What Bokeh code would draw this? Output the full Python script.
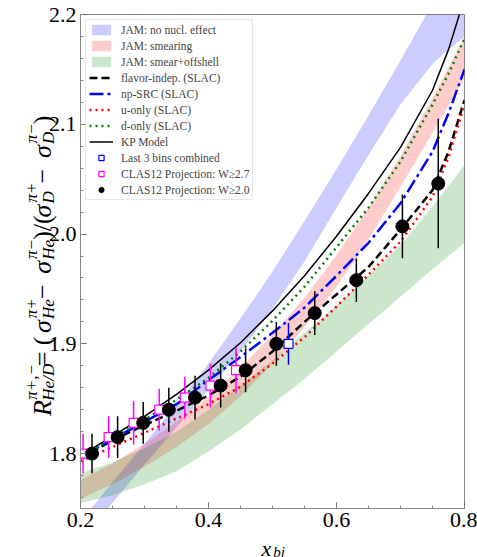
import math
from bokeh.plotting import figure
from bokeh.layouts import row, column
from bokeh.models import (Range1d, SingleIntervalTicker, PrintfTickFormatter,
                          Legend, LegendItem)
from bokeh.core.properties import value
from bokeh.embed import file_html
from bokeh.resources import INLINE

# ---- model curves on a common x_bj grid ----
x_model = [0.20, 0.25, 0.30, 0.35, 0.40, 0.45, 0.50, 0.55, 0.60, 0.65, 0.70, 0.75, 0.775, 0.80]

# JAM bands (lower / upper edge)
jam_free_lo = [1.722, 1.755, 1.790, 1.824, 1.858, 1.893, 1.932, 1.975, 2.024, 2.072, 2.118, 2.155, 2.168, 2.180]
jam_free_hi = [1.738, 1.774, 1.809, 1.845, 1.882, 1.923, 1.966, 2.012, 2.059, 2.108, 2.158, 2.210, 2.237, 2.265]
jam_smear_lo = [1.759, 1.772, 1.788, 1.806, 1.827, 1.852, 1.882, 1.915, 1.952, 1.995, 2.043, 2.092, 2.117, 2.142]
jam_smear_hi = [1.776, 1.791, 1.809, 1.829, 1.852, 1.878, 1.908, 1.942, 1.981, 2.024, 2.071, 2.124, 2.152, 2.180]
jam_off_lo = [1.755, 1.762, 1.772, 1.784, 1.802, 1.822, 1.845, 1.868, 1.893, 1.918, 1.943, 1.968, 1.980, 1.992]
jam_off_hi = [1.782, 1.792, 1.805, 1.820, 1.840, 1.862, 1.885, 1.910, 1.935, 1.962, 1.990, 2.025, 2.044, 2.063]

# SLAC-based EMC parametrisations and KP model
slac_flavor = [1.796, 1.812, 1.826, 1.839, 1.853, 1.870, 1.893, 1.920, 1.945, 1.970, 2.004, 2.040, 2.075, 2.122]
slac_npsrc = [1.797, 1.813, 1.829, 1.845, 1.867, 1.888, 1.910, 1.933, 1.962, 1.992, 2.028, 2.075, 2.110, 2.150]
slac_u = [1.793, 1.806, 1.819, 1.832, 1.845, 1.861, 1.882, 1.906, 1.934, 1.963, 1.993, 2.034, 2.070, 2.118]
slac_d = [1.797, 1.814, 1.831, 1.849, 1.869, 1.893, 1.921, 1.952, 1.988, 2.024, 2.066, 2.118, 2.146, 2.178]
kp_model = [1.798, 1.816, 1.834, 1.854, 1.876, 1.901, 1.930, 1.962, 1.998, 2.037, 2.079, 2.131, 2.168, 2.215]

# ---- projected data ----
w20_x = [0.218, 0.258, 0.298, 0.338, 0.379, 0.419, 0.458, 0.506, 0.566, 0.631, 0.703, 0.759]
w20_y = [1.800, 1.815, 1.828, 1.840, 1.851, 1.862, 1.876, 1.900, 1.928, 1.958, 2.007, 2.046]
w20_err = [0.018, 0.019, 0.019, 0.020, 0.020, 0.020, 0.020, 0.020, 0.020, 0.020, 0.029, 0.059]

w27_x = [0.204, 0.244, 0.283, 0.323, 0.363, 0.403, 0.443]
w27_y = [1.800, 1.815, 1.828, 1.840, 1.851, 1.862, 1.876]
w27_err = [0.018, 0.019, 0.020, 0.019, 0.019, 0.020, 0.021]

comb_x = [0.525]
comb_y = [1.900]
comb_err = [0.019]

SERIF = "Liberation Serif"
TICK = 22

p = figure(width=443, height=540, x_range=Range1d(0.2, 0.8), y_range=Range1d(1.75, 2.2),
           output_backend="svg", toolbar_location=None, title=None,
           min_border_left=46, min_border_right=13, min_border_top=14, min_border_bottom=32)
p.grid.visible = False
p.outline_line_color = "#888888"
p.border_fill_alpha = 0.0

p.xaxis.ticker = SingleIntervalTicker(interval=0.2, num_minor_ticks=4)
p.yaxis.ticker = SingleIntervalTicker(interval=0.1, num_minor_ticks=5)
for ax in (p.xaxis, p.yaxis):
    ax.formatter = PrintfTickFormatter(format="%.1f")
    ax.major_label_text_font = SERIF
    ax.major_label_text_font_size = f"{TICK}px"
    ax.major_label_text_color = "black"
    ax.axis_line_color = "#888888"
    ax.major_tick_line_color = "#666666"
    ax.minor_tick_line_color = "#888888"
    ax.major_tick_in = 6
    ax.major_tick_out = 0
    ax.minor_tick_in = 3
    ax.minor_tick_out = 0
p.xaxis.major_label_standoff = 4
p.yaxis.major_label_standoff = 4

# bands
r_free = p.varea(x=x_model, y1=jam_free_lo, y2=jam_free_hi, fill_color="blue", fill_alpha=0.2)
r_smear = p.varea(x=x_model, y1=jam_smear_lo, y2=jam_smear_hi, fill_color="red", fill_alpha=0.2)
r_off = p.varea(x=x_model, y1=jam_off_lo, y2=jam_off_hi, fill_color="green", fill_alpha=0.2)

# curves
r_flav = p.line(x_model, slac_flavor, line_color="black", line_width=2.5, line_dash="8 4")
r_np = p.line(x_model, slac_npsrc, line_color="blue", line_width=2.5, line_dash="14 4 3 4")
r_u = p.line(x_model, slac_u, line_color="red", line_width=2.5, line_dash="2 4")
r_d = p.line(x_model, slac_d, line_color="green", line_width=2.5, line_dash="2 4")
r_kp = p.line(x_model, kp_model, line_color="black", line_width=1.5)


# error bars and markers
def bars(xs, ys, es, color, width):
    lo = [y - e for y, e in zip(ys, es)]
    hi = [y + e for y, e in zip(ys, es)]
    return p.segment(x0=xs, y0=lo, x1=xs, y1=hi, line_color=color, line_width=width)


bars(comb_x, comb_y, comb_err, "blue", 1.5)
r_comb = p.scatter(comb_x, comb_y, marker="square", size=9, fill_color="white",
                   line_color="blue", line_width=1.2)
bars(w27_x, w27_y, w27_err, "magenta", 1.5)
r_w27 = p.scatter(w27_x, w27_y, marker="square", size=9, fill_color="white",
                  line_color="magenta", line_width=1.2)
bars(w20_x, w20_y, w20_err, "black", 1.5)
r_w20 = p.scatter(w20_x, w20_y, marker="circle", size=13, fill_color="black", line_color="black")

legend = Legend(items=[
    LegendItem(label="JAM: no nucl. effect", renderers=[r_free]),
    LegendItem(label="JAM: smearing", renderers=[r_smear]),
    LegendItem(label="JAM: smear+offshell", renderers=[r_off]),
    LegendItem(label="flavor-indep. (SLAC)", renderers=[r_flav]),
    LegendItem(label="np-SRC (SLAC)", renderers=[r_np]),
    LegendItem(label="u-only (SLAC)", renderers=[r_u]),
    LegendItem(label="d-only (SLAC)", renderers=[r_d]),
    LegendItem(label="KP Model", renderers=[r_kp]),
    LegendItem(label="Last 3 bins combined", renderers=[r_comb]),
    LegendItem(label="CLAS12 Projection: W≥2.7", renderers=[r_w27]),
    LegendItem(label="CLAS12 Projection: W≥2.0", renderers=[r_w20]),
], location="top_left")
legend.label_text_font = SERIF
legend.label_text_font_size = "11.5px"
legend.glyph_width = 24
legend.glyph_height = 13
legend.label_height = 13
legend.spacing = 3
legend.padding = 3
legend.margin = 5
legend.label_standoff = 8
legend.border_line_color = "#d0d0d0"
legend.background_fill_alpha = 0.8
p.add_layout(legend)

# ---- axis titles built from text pieces (sub/superscripts) ----
EM_REG = {"=": 0.564, "(": 0.333, ")": 0.333, "/": 0.278, " ": 0.25, "+": 0.564, "−": 0.564, ",": 0.25}
EM_IT = {"R": 0.611, "H": 0.722, "e": 0.444, "D": 0.722, "/": 0.278, "σ": 0.55, "π": 0.55,
         "+": 0.675, "−": 0.675, ",": 0.25, "x": 0.444, "b": 0.5, "j": 0.278}


def text_len(s, size, italic):
    table = EM_IT if italic else EM_REG
    return sum(table.get(c, 0.5) for c in s) * size


def label_fig(w, h):
    f = figure(width=w, height=h, x_range=Range1d(0, w), y_range=Range1d(0, h),
               output_backend="svg", toolbar_location=None, title=None, min_border=0,
               x_axis_type=None, y_axis_type=None)
    f.outline_line_color = None
    f.grid.visible = False
    f.background_fill_alpha = 0.0
    f.border_fill_alpha = 0.0
    return f


YMAIN, YSCRIPT = 26, 17
# full-width title layer for the y axis; the main plot is laid over it
ylab = label_fig(477, 540)
ylab.margin = (0, -443, 0, 0)
ylabel_atoms = [
    ("R", True, "π+,−", "He/D"),
    (" = (", False, None, None),
    ("σ", True, "π+", "He"),
    (" − ", False, None, None),
    ("σ", True, "π−", "He"),
    (")/(", False, None, None),
    ("σ", True, "π+", "D"),
    (" − ", False, None, None),
    ("σ", True, "π−", "D"),
    (")", False, None, None),
]


def vtext(fig, s, x, y, size, italic):
    fig.text(x=[x], y=[y], text=[s], angle=math.pi / 2, text_font=value(SERIF),
             text_font_size=f"{size}px", text_font_style="italic" if italic else "normal",
             text_align="left", text_baseline="alphabetic", text_color="black")


base_x = 42
pos = 101
for base, it, sup, sub in ylabel_atoms:
    vtext(ylab, base, base_x, pos, YMAIN, it)
    pos += text_len(base, YMAIN, it)
    if sup or sub:
        pos += 1
        adv = 0
        if sup:
            vtext(ylab, sup, base_x - 11.5, pos + 1, YSCRIPT, True)
            adv = max(adv, text_len(sup, YSCRIPT, True) + 1)
        if sub:
            vtext(ylab, sub, base_x + 6, pos, YSCRIPT, True)
            adv = max(adv, text_len(sub, YSCRIPT, True))
        pos += adv

# x-axis title layer, overlapping the (transparent) bottom border of the main plot
xlab = label_fig(477, 30)
xlab.margin = (-13, 0, 0, 0)
xlab.text(x=[261], y=[9], text=["x"], text_font=value(SERIF), text_font_size=f"{TICK}px",
          text_font_style="italic", text_align="left", text_baseline="alphabetic")
xlab.text(x=[261 + text_len("x", TICK, True) + 2], y=[6], text=["bj"], text_font=value(SERIF),
          text_font_size="15px", text_font_style="italic", text_align="left",
          text_baseline="alphabetic")

layout = column(row(ylab, p), xlab)
open("out.html", "w").write(file_html(layout, INLINE))
